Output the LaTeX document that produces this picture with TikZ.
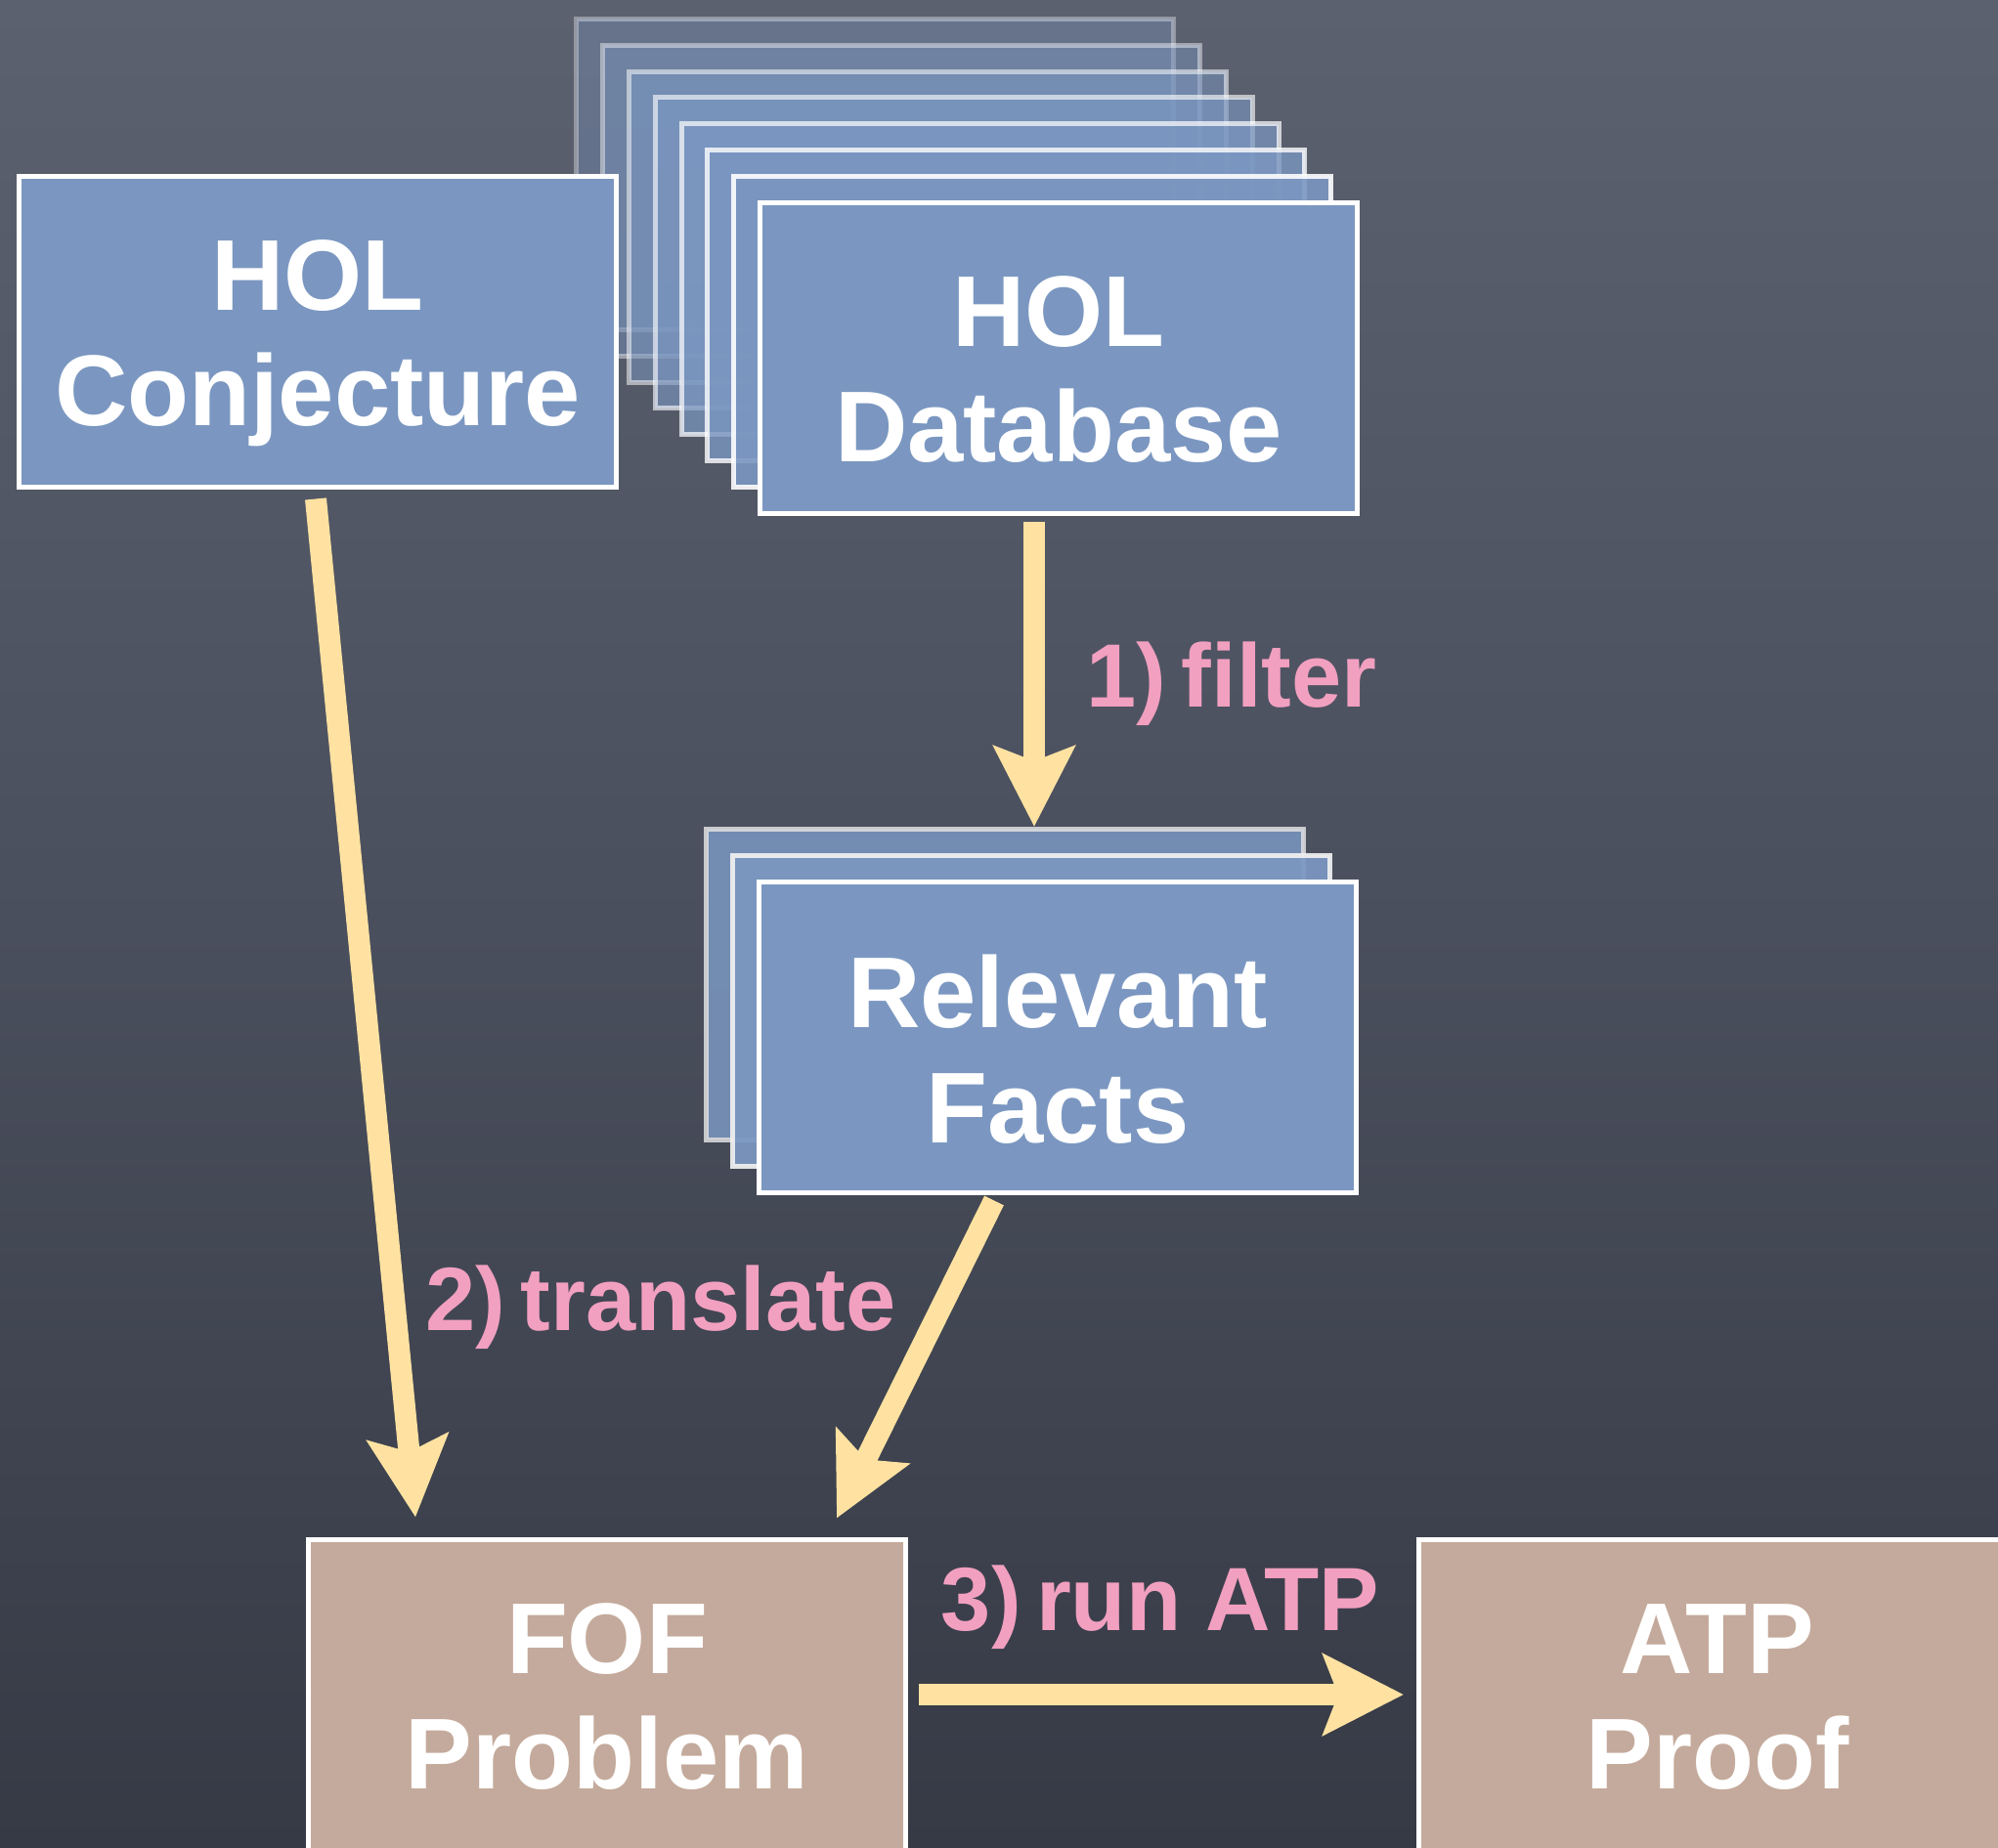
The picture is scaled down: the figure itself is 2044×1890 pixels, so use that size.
\documentclass[tikz,border=0pt]{standalone}
\usepackage{fontspec}
\setmainfont{Liberation Sans}
\usetikzlibrary{arrows.meta,calc}

\definecolor{boardtop}{RGB}{92,97,112}
\definecolor{boardmid}{RGB}{74,79,93}
\definecolor{boardbot}{RGB}{54,58,69}
\definecolor{slateblue}{RGB}{123,151,193}
\definecolor{clay}{RGB}{196,170,156}
\definecolor{chalkyellow}{RGB}{255,226,161}
\definecolor{chalkpink}{RGB}{242,160,192}

\tikzset{
  card/.style={draw=white, line width=5pt, minimum width=611pt, minimum height=318pt,
    inner sep=0pt, align=center, text=white,
    font=\fontsize{103}{118}\selectfont\bfseries, text height=192pt, text depth=0pt},
  bluecard/.style={card, fill=slateblue},
  claycard/.style={card, fill=clay},
  layer/.style={bluecard, fill opacity=#1, draw opacity=#1},
  flow/.style={draw=chalkyellow, line width=22pt,
    -{Stealth[length=82pt,width=82pt,inset=15pt]}},
  steplabel/.style={text=chalkpink, font=\fontsize{92}{100}\selectfont\bfseries,
    inner sep=0pt, anchor=base},
}

\begin{document}
\begin{tikzpicture}[x=1pt,y=-1pt]
  % page and chalkboard
  \clip (0,0) rectangle (2044,1890);
  \shade[top color=boardtop, bottom color=boardbot, middle color=boardmid]
    (0,0) rectangle (2044,1890);

  % stacked database sheets, back to front
  \foreach \k in {7,6,5,4,3,2,1}{
    \pgfmathsetmacro\op{0.98-0.09*\k}
    \node[layer=\op] (db\k) at ({1083-26.8*\k},{366-26.8*\k}) {};
  }
  \node[bluecard, text height=212pt] (db) at (1083,366) {HOL\\Database};

  % stacked relevant facts
  \node[layer=0.85, draw=white!88!black] (facts2) at ({1082-53.6},{1061-53.6}) {};
  \node[layer=0.93, draw=white!94!black] (facts1) at ({1082-26.8},{1061-26.8}) {};
  \node[bluecard, text height=216pt] (facts) at (1082,1061) {Relevant\\Facts};

  % conjecture and output boxes
  \node[bluecard] (conj) at (325,339) {HOL\\Conjecture};
  \node[claycard] (fof) at (621,1734) {FOF\\Problem};
  \node[claycard] (atp) at (1757,1734) {ATP\\Proof};

  % connector end points
  \coordinate (conjout) at ($(conj.south)+(-2,10)$);
  \coordinate (fofinA) at ($(fof.north west)+(112,-20)$);
  \coordinate (dbout) at ($(db.south)+(-25,6)$);
  \coordinate (factsin) at (dbout |- facts2.north);
  \coordinate (factsout) at ($(facts.south)+(-65,6)$);
  \coordinate (fofinB) at ($(fof.north east)+(-73,-19)$);
  \coordinate (fofout) at ($(fof.east)+(11,0)$);
  \coordinate (atpin) at ($(atp.west)+(-13,0)$);

  % arrows
  \draw[flow] (conjout) -- (fofinA);
  \draw[flow] (dbout) -- (factsin);
  \draw[flow] (factsout) -- (fofinB);
  \draw[flow] (fofout) -- (atpin);

  % step labels
  \node[steplabel] (lfilter) at (1260,723) {1)\,filter};
  \node[steplabel] (ltrans) at (676,1361) {2)\,translate};
  \node[steplabel] (lrun) at (1187,1668) {3)\,run ATP};
\end{tikzpicture}
\end{document}
